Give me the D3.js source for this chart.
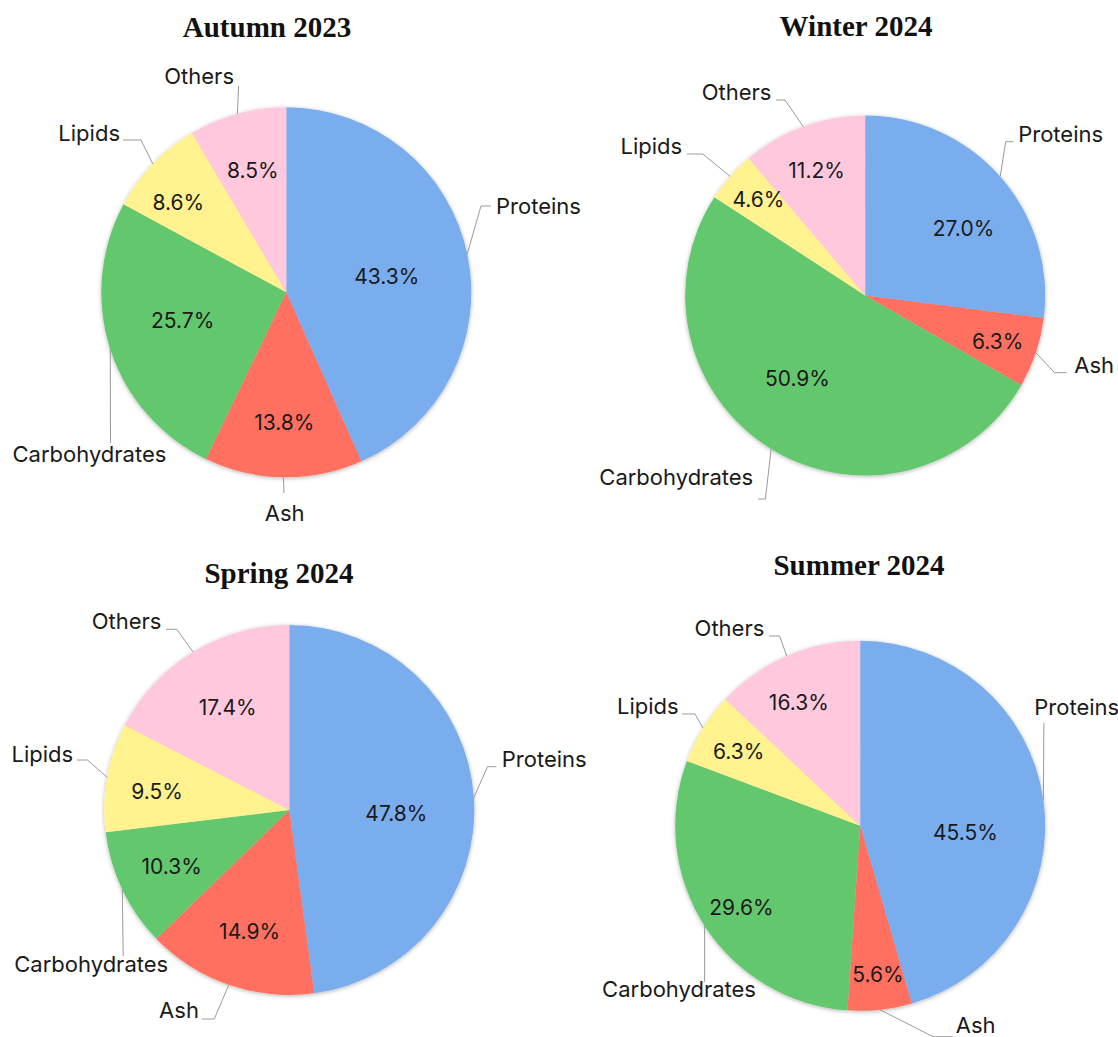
<!DOCTYPE html>
<html>
<head>
<meta charset="utf-8">
<script src="https://cdn.jsdelivr.net/npm/d3@7"></script>
<style>
  body { margin: 0; background: #fff; }
  .cat, .pct { font-family: Inter, "Liberation Sans", sans-serif; fill: #1a1a1a; }
  .cat { font-size: 22px; }
  .pct { font-size: 21px; }
  .title { font-family: "Liberation Serif", serif; font-weight: bold; font-size: 29px; fill: #111; }
</style>
</head>
<body>
<script>
// categories and colours, clockwise from 12 o'clock
var categories = ["Proteins", "Ash", "Carbohydrates", "Lipids", "Others"];
var colors = ["#7aadee", "#ff6f61", "#63c76e", "#fff28f", "#ffc8dd"];

// percentages printed on each pie
var autumnValues = [43.3, 13.8, 25.7, 8.6, 8.5];
var winterValues = [27.0, 6.3, 50.9, 4.6, 11.2];
var springValues = [47.8, 14.9, 10.3, 9.5, 17.4];
var summerValues = [45.5, 5.6, 29.6, 6.3, 16.3];
// summer slices as drawn in the source (Others slice is smaller than its 16.3% label)
var summerSlices = [45.5, 5.6, 29.6, 6.3, 13.0];

var width = 1118, height = 1037;

var svg = d3.select("body").append("svg")
    .attr("width", width)
    .attr("height", height);

// soft shadow round each pie
var filter = svg.append("defs").append("filter")
    .attr("id", "shadow")
    .attr("x", "-10%").attr("y", "-10%")
    .attr("width", "120%").attr("height", "120%");
filter.append("feDropShadow")
    .attr("dx", 0).attr("dy", 1)
    .attr("stdDeviation", 2)
    .attr("flood-color", "#000")
    .attr("flood-opacity", 0.3);

// layout of the four panels (positions relative to pie centre)
var panels = [
    {
        title: "Autumn 2023", tx: 267, ty: 37,
        cx: 286.3, cy: 292.3, r: 185,
        values: autumnValues, slices: autumnValues,
        pctR: [0.55, 0.705, 0.58, 0.76, 0.685],
        nudge: [3, 0, 3, -4, 0],
        labels: [
            {x: 209.7, y: -78.3, anchor: "start", lead: [[204.7, -86.3], [194.7, -86.3]]},
            {x: -1.7, y: 228.7, anchor: "middle", lead: [[-2.3, 200.7]]},
            {x: -273.8, y: 169.7, anchor: "start", lead: [[-175.8, 150.7]]},
            {x: -166.3, y: -151.6, anchor: "end", lead: [[-163.3, -152.3], [-145.3, -152.3]]},
            {x: -52.3, y: -208.3, anchor: "end", lead: [[-47.7, -206.3]]}
        ]
    },
    {
        title: "Winter 2024", tx: 856, ty: 36,
        cx: 865.2, cy: 295.5, r: 180,
        values: winterValues, slices: winterValues,
        pctR: [0.662, 0.778, 0.594, 0.797, 0.748],
        nudge: [7, 0.5, 7.8, 0.5, -1],
        labels: [
            {x: 153, y: -153.8, anchor: "start", lead: [[148.4, -153.8], [140.5, -153.8]]},
            {x: 209.1, y: 77.2, anchor: "start", lead: [[201.2, 77.2], [189.4, 77.2]]},
            {x: -265.9, y: 189.5, anchor: "start", lead: [[-107, 203.5], [-99.8, 203.5]]},
            {x: -183.1, y: -141.5, anchor: "end", lead: [[-178.4, -141.5], [-162.3, -141.5]]},
            {x: -93.8, y: -195.5, anchor: "end", lead: [[-89.2, -195.5], [-80.2, -195.5]]}
        ]
    },
    {
        title: "Spring 2024", tx: 279, ty: 583,
        cx: 289.3, cy: 810, r: 185,
        values: springValues, slices: springValues,
        pctR: [0.579, 0.691, 0.704, 0.722, 0.648],
        nudge: [5.7, -1, 0, -2, 0.4],
        labels: [
            {x: 212.5, y: -43.3, anchor: "start", lead: [[207.1, -43.3], [198.2, -43.3]]},
            {x: -90.4, y: 208.3, anchor: "end", lead: [[-87.5, 209], [-75, 209]]},
            {x: -275, y: 161.7, anchor: "start", lead: [[-166.1, 146]]},
            {x: -216.1, y: -48.3, anchor: "end", lead: [[-212.5, -50], [-201.8, -50]]},
            {x: -127.9, y: -180.7, anchor: "end", lead: [[-123.3, -180.7], [-112.5, -180.7]]}
        ]
    },
    {
        title: "Summer 2024", tx: 859, ty: 575,
        cx: 860.2, cy: 825.8, r: 185,
        values: summerValues, slices: summerSlices,
        pctR: [0.57, 0.81, 0.78, 0.77, 0.746],
        nudge: [11.8, -0.7, -1.8, -0.4, -3],
        labels: [
            {x: 174.1, y: -110.8, anchor: "start", lead: [[183.7, -103.1]]},
            {x: 95.5, y: 207.2, anchor: "start", lead: [[92.7, 210.9], [73, 210.9]]},
            {x: -258.1, y: 170.9, anchor: "start", lead: [[-155.6, 155.9]]},
            {x: -181.6, y: -111.8, anchor: "end", lead: [[-178.1, -111.8], [-165.2, -111.8]]},
            {x: -95.9, y: -189.8, anchor: "end", lead: [[-91.3, -189.8], [-80.6, -189.8]]}
        ]
    }
];

var pie = d3.pie().sort(null).value(function(d) { return d; });
var line = d3.line();

panels.forEach(function(p) {

    svg.append("text")
        .attr("class", "title")
        .attr("x", p.tx)
        .attr("y", p.ty)
        .attr("text-anchor", "middle")
        .text(p.title);

    var g = svg.append("g")
        .attr("transform", "translate(" + p.cx + "," + p.cy + ")");

    var arcs = pie(p.slices);
    var arc = d3.arc().innerRadius(0).outerRadius(p.r);

    // slices
    g.append("g")
        .attr("filter", "url(#shadow)")
        .selectAll("path")
        .data(arcs)
        .join("path")
        .attr("d", arc)
        .attr("fill", function(d, i) { return colors[i]; });

    // percentage inside each slice
    g.selectAll("text.pct")
        .data(arcs)
        .join("text")
        .attr("class", "pct")
        .attr("transform", function(d, i) {
            var a = (d.startAngle + d.endAngle) / 2 + p.nudge[i] * Math.PI / 180;
            var pt = d3.pointRadial(a, p.r * p.pctR[i]);
            return "translate(" + pt[0] + "," + pt[1] + ")";
        })
        .attr("dy", "0.36em")
        .attr("text-anchor", "middle")
        .text(function(d, i) { return p.values[i].toFixed(1) + "%"; });

    // leader lines to the slice mid-angle on the rim
    g.selectAll("path.lead")
        .data(arcs)
        .join("path")
        .attr("class", "lead")
        .attr("fill", "none")
        .attr("stroke", "#9a9a9a")
        .attr("stroke-width", 1)
        .attr("d", function(d, i) {
            var edge = d3.pointRadial((d.startAngle + d.endAngle) / 2, p.r);
            return line(p.labels[i].lead.concat([edge]));
        });

    // category names
    g.selectAll("text.cat")
        .data(arcs)
        .join("text")
        .attr("class", "cat")
        .attr("x", function(d, i) { return p.labels[i].x; })
        .attr("y", function(d, i) { return p.labels[i].y; })
        .attr("text-anchor", function(d, i) { return p.labels[i].anchor; })
        .text(function(d, i) { return categories[i]; });
});
</script>
</body>
</html>
